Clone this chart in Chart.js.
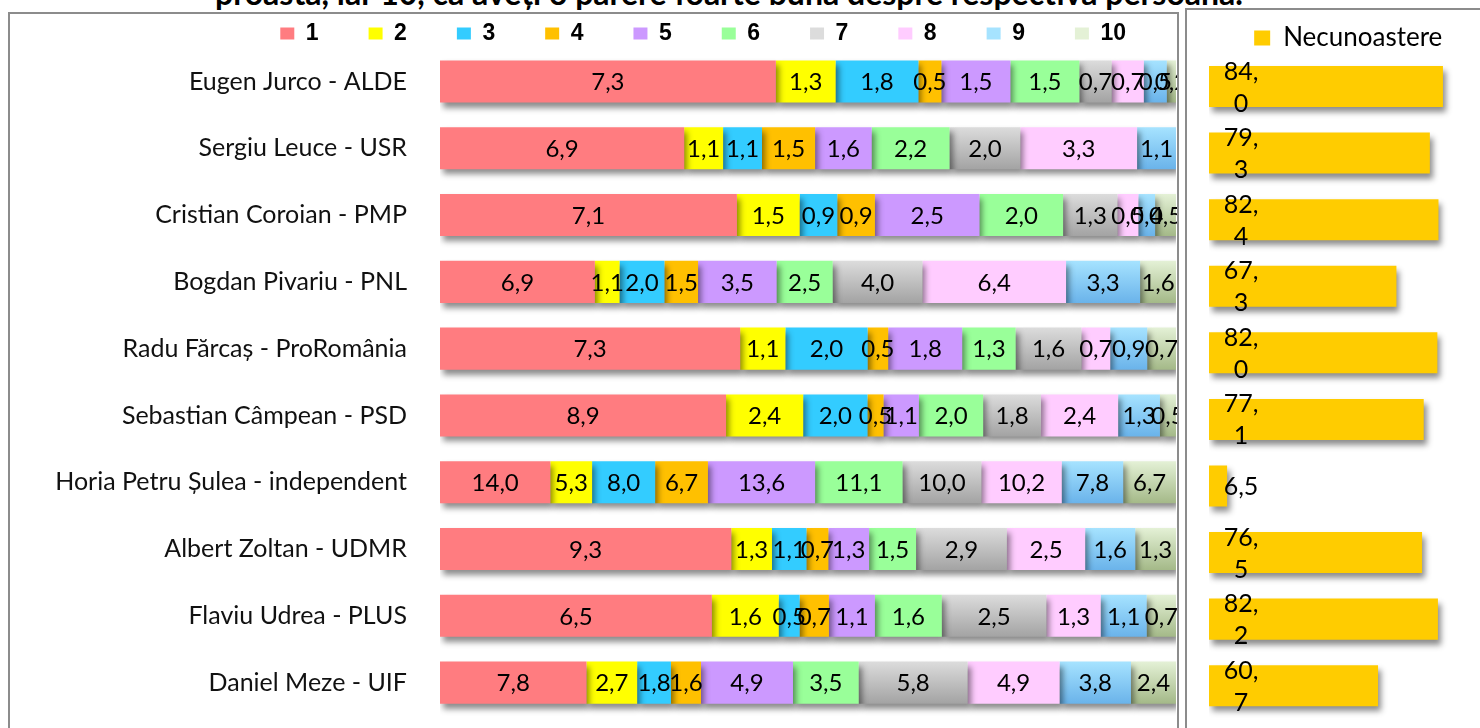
<!DOCTYPE html>
<html>
<head>
<meta charset="utf-8">
<script src="https://cdn.jsdelivr.net/npm/chart.js@4.4.1/dist/chart.umd.min.js"></script>
<style>
html, body { margin: 0; padding: 0; background: #fff; width: 1480px; height: 728px; overflow: hidden; position: relative; }
#title { position: absolute; top: -22px; left: 0; width: 1458px; text-align: center; font: bold 32px Lato, sans-serif; line-height: 30px; color: #000; white-space: nowrap; }
.frame { position: absolute; box-sizing: border-box; border: 2px solid #8c8c8c; border-bottom: none; }
#frameL { left: 8px; top: 12px; width: 1171px; height: 740px; }
#frameR { left: 1185px; top: 8px; width: 400px; height: 740px; }
#wrapL { position: absolute; left: 10px; top: -28.5px; width: 1167px; height: 744px; }
#wrapR { position: absolute; left: 1187px; top: 15px; width: 348px; height: 704px; }
</style>
</head>
<body>
<div id="title">proastă, iar 10, că aveți o părere foarte bună despre respectiva persoană.</div>
<div class="frame" id="frameL"></div>
<div class="frame" id="frameR"></div>
<div id="wrapL"><canvas id="left"></canvas></div>
<div id="wrapR"><canvas id="right"></canvas></div>
<script>
// date: procente pe note (1..10) si necunoastere, pe candidat
const candidates = ["Eugen Jurco - ALDE", "Sergiu Leuce - USR", "Cristian Coroian - PMP", "Bogdan Pivariu - PNL",
  "Radu Fărcaș - ProRomânia", "Sebastian Câmpean - PSD", "Horia Petru Șulea - independent",
  "Albert Zoltan - UDMR", "Flaviu Udrea - PLUS", "Daniel Meze - UIF"];
const grades = ["1", "2", "3", "4", "5", "6", "7", "8", "9", "10"];
const score1 = [7.3, 6.9, 7.1, 6.9, 7.3, 8.9, 14.0, 9.3, 6.5, 7.8];
const score2 = [1.3, 1.1, 1.5, 1.1, 1.1, 2.4, 5.3, 1.3, 1.6, 2.7];
const score3 = [1.8, 1.1, 0.9, 2.0, 2.0, 2.0, 8.0, 1.1, 0.5, 1.8];
const score4 = [0.5, 1.5, 0.9, 1.5, 0.5, 0.5, 6.7, 0.7, 0.7, 1.6];
const score5 = [1.5, 1.6, 2.5, 3.5, 1.8, 1.1, 13.6, 1.3, 1.1, 4.9];
const score6 = [1.5, 2.2, 2.0, 2.5, 1.3, 2.0, 11.1, 1.5, 1.6, 3.5];
const score7 = [0.7, 2.0, 1.3, 4.0, 1.6, 1.8, 10.0, 2.9, 2.5, 5.8];
const score8 = [0.7, 3.3, 0.5, 6.4, 0.7, 2.4, 10.2, 2.5, 1.3, 4.9];
const score9 = [0.5, 1.1, 0.4, 3.3, 0.9, 1.3, 7.8, 1.6, 1.1, 3.8];
const score10 = [0.2, 0, 0.5, 1.6, 0.7, 0.5, 6.7, 1.3, 0.7, 2.4];
const unknown = [84.0, 79.3, 82.4, 67.3, 82.0, 77.1, 6.5, 76.5, 82.2, 60.7];

const scores = [score1, score2, score3, score4, score5, score6, score7, score8, score9, score10];
const colors = ['#FF7C80', '#FFFF00', '#33CCFF', '#FFC000', '#CC99FF', '#99FF99',
  ['#DCDCDC', '#A3A3A3'], '#FFCCFF', ['#A6E3FF', '#6AB3EA'], ['#E4F1D6', '#A4B988']];

Chart.defaults.font.family = 'Lato, sans-serif';
Chart.defaults.animation = false;

const fmt = v => v.toFixed(1).replace('.', ',');

// bara stivuita la 100% din notele date
const totals = candidates.map((c, i) => scores.reduce((s, arr) => s + arr[i], 0));

function fill(c, pct) {
  if (typeof c === 'string') return c;
  return function (ctx) {
    const chart = ctx.chart;
    const s = chart.scales && chart.scales.y;
    if (!s || ctx.dataIndex === undefined || !chart.chartArea) return c[1];
    const step = s.height / candidates.length;
    const yc = s.getPixelForValue(ctx.dataIndex);
    const h = step * pct;
    const g = chart.ctx.createLinearGradient(0, yc - h / 2, 0, yc + h / 2);
    g.addColorStop(0, c[0]);
    g.addColorStop(1, c[1]);
    return g;
  };
}

const shadow = {
  id: 'shadow',
  beforeDatasetsDraw(chart) {
    const c = chart.ctx;
    c.save();
    c.shadowColor = 'rgba(0,0,0,0.45)';
    c.shadowBlur = 6;
    c.shadowOffsetX = 3;
    c.shadowOffsetY = 5;
  },
  afterDatasetsDraw(chart) { chart.ctx.restore(); }
};

const segLabels = {
  id: 'segLabels',
  afterDraw(chart) {
    const c = chart.ctx;
    c.save();
    c.font = '24px Lato, sans-serif';
    c.fillStyle = '#000';
    c.textAlign = 'center';
    c.textBaseline = 'middle';
    chart.data.datasets.forEach((ds, di) => {
      chart.getDatasetMeta(di).data.forEach((bar, i) => {
        const v = scores[di][i];
        if (!v) return;
        c.fillText(fmt(v), (bar.x + bar.base) / 2, bar.y + 1);
      });
    });
    c.restore();
  }
};

const unkLabels = {
  id: 'unkLabels',
  afterDraw(chart) {
    const c = chart.ctx;
    c.save();
    c.font = '25px Lato, sans-serif';
    c.fillStyle = '#000';
    c.textAlign = 'center';
    c.textBaseline = 'middle';
    chart.getDatasetMeta(0).data.forEach((bar, i) => {
      const t = fmt(unknown[i]);
      const x = bar.base + 32;
      if (unknown[i] >= 10) {
        const p = t.split(',');
        c.fillText(p[0] + ',', x, bar.y - 15);
        c.fillText(p[1], x, bar.y + 17);
      } else {
        c.fillText(t, x, bar.y + 1);
      }
    });
    c.restore();
  }
};

const BAR_L = 0.63;
new Chart(document.getElementById('left'), {
  type: 'bar',
  data: {
    labels: candidates,
    datasets: grades.map((g, k) => ({
      label: g,
      data: scores[k].map((v, i) => v / totals[i] * 100),
      backgroundColor: fill(colors[k], BAR_L),
      borderWidth: 0,
      categoryPercentage: 1,
      barPercentage: BAR_L
    }))
  },
  options: {
    indexAxis: 'y',
    responsive: true,
    maintainAspectRatio: false,
    layout: { padding: { left: 0, right: 1, top: 0, bottom: 0 } },
    scales: {
      x: { stacked: true, min: 0, max: 100, display: false },
      y: {
        stacked: true,
        grid: { display: false, drawTicks: false },
        border: { display: false },
        ticks: { color: '#111', font: { size: 25 }, padding: 33 },
        afterFit: s => { s.width = 430; s.paddingTop = 0; s.paddingBottom = 0; }
      }
    },
    plugins: {
      legend: {
        position: 'top',
        align: 'end',
        maxHeight: 76.1,
        labels: {
          color: '#000',
          font: { family: 'Liberation Sans, Arial, sans-serif', size: 23, weight: 'bold' },
          boxWidth: 14,
          boxHeight: 12,
          padding: 50
        }
      },
      tooltip: { enabled: false }
    }
  },
  plugins: [shadow, segLabels]
});

const BAR_R = 0.616;
new Chart(document.getElementById('right'), {
  type: 'bar',
  data: {
    labels: candidates,
    datasets: [{
      label: 'Necunoastere',
      data: unknown,
      backgroundColor: '#FFCC00',
      borderWidth: 0,
      categoryPercentage: 1,
      barPercentage: BAR_R
    }]
  },
  options: {
    indexAxis: 'y',
    responsive: true,
    maintainAspectRatio: false,
    layout: { padding: { left: 22, right: 47.5, top: 0, bottom: 0 } },
    scales: {
      x: { min: 0, max: 100, display: false },
      y: { display: false }
    },
    plugins: {
      legend: {
        position: 'top',
        align: 'center',
        maxHeight: 38.2,
        labels: {
          color: '#000',
          font: { size: 26 },
          boxWidth: 16,
          boxHeight: 15,
          padding: 10
        }
      },
      tooltip: { enabled: false }
    }
  },
  plugins: [shadow, unkLabels]
});
</script>
</body>
</html>
